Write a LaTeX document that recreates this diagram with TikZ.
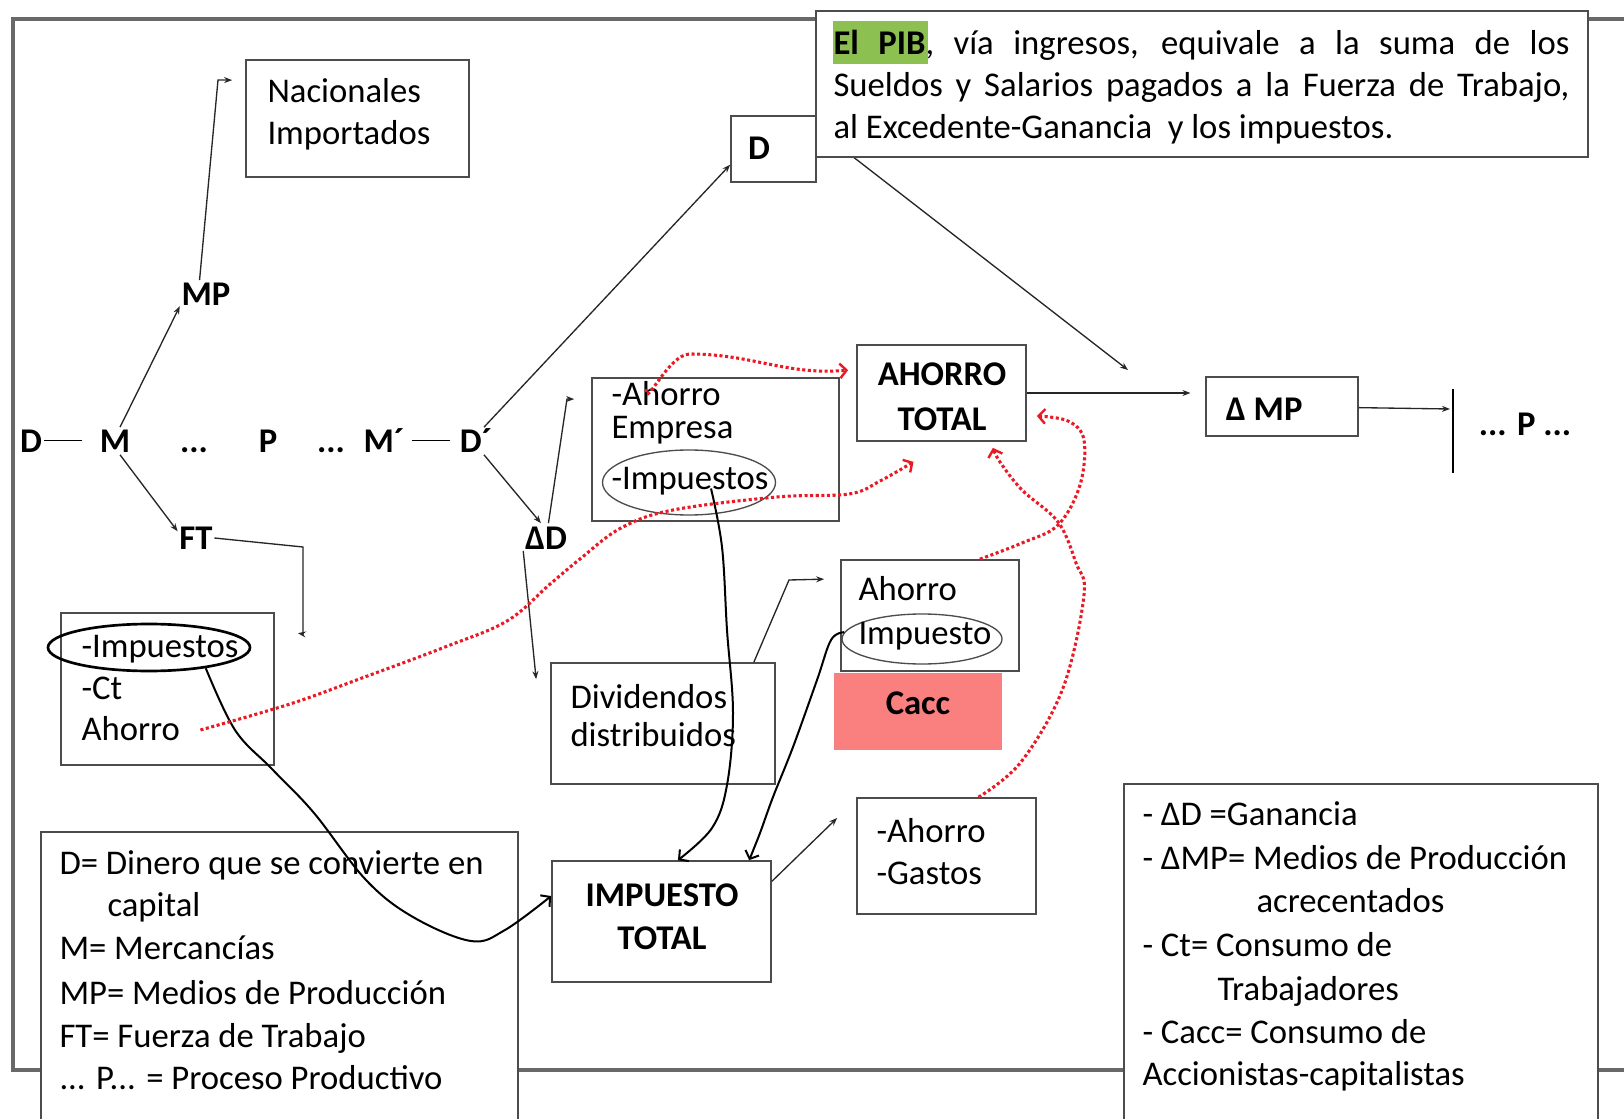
\documentclass[tikz,border=0pt]{standalone}
\usepackage{fontspec}
\setmainfont{Carlito}
\usetikzlibrary{arrows.meta,shapes.geometric,fit,calc}

\definecolor{framegray}{RGB}{105,105,105}
\definecolor{pibgreen}{RGB}{140,192,80}
\definecolor{caccred}{RGB}{250,128,128}
\definecolor{dotred}{RGB}{235,25,35}

\newcommand{\txtsize}{\fontsize{26}{32}\selectfont}

\tikzset{every picture/.style={line width=0.75pt}}
\tikzset{
  box/.style={draw=black!70, line width=1.3pt, fill=white, inner sep=0pt},
  oval/.style={draw=black!70, ellipse, line width=1pt, inner sep=0pt},
  txt/.style={anchor=west, inner sep=0pt, text height=18pt, text depth=5pt},
  tight/.style={txt, text height=14pt, text depth=3pt},
  bf/.style={font=\txtsize\bfseries},
  flow/.style={bf, inner sep=1pt, text height=18pt, text depth=0pt},
  conn/.style={draw=black!85, line width=1pt, -{Stealth[length=6pt,width=4.5pt]}},
  wavy/.style={black, line width=1.5pt, -{Straight Barb[length=5pt,width=11pt]}},
  reddots/.style={dotred, line width=2.3pt, dash pattern=on 2.3pt off 1.9pt,
    -{Straight Barb[length=5pt,width=11pt,line width=1.8pt]}},
}

\begin{document}
\begin{tikzpicture}[x=0.75pt,y=0.75pt,yscale=-1,xscale=1, font=\txtsize]
\useasboundingbox (0,0) rectangle (1624,1119);

%Frame
\draw [framegray, line width=2.5pt] (1630,19) -- (13,19) -- (13,1070) -- (1630,1070) ;

%Shape: Rectangle
\node[box, fit={(246,60) (469,177)}] (nac) {};
%Shape: Rectangle
\node[box, fit={(731,116) (816,182)}] (dbox) {};
%Shape: Rectangle
\node[box, fit={(857,345) (1026,441)}] (ahtot) {};
%Shape: Rectangle
\node[box, fit={(1206,377) (1358,436)}] (dmp) {};
%Shape: Rectangle
\node[box, fit={(592,378) (839,521)}] (emp) {};
%Shape: Rectangle
\node[box, fit={(61,613) (274,765)}] (lbox) {};
%Shape: Rectangle
\node[box, fit={(551,663) (775,784)}] (div) {};
%Shape: Rectangle
\node[box, fit={(841,560) (1019,671)}] (ahimp) {};
%Shape: Rectangle
\node[fill=caccred, inner sep=0pt, fit={(834,673) (1002,750)}] (cacc) {};
%Shape: Rectangle
\node[box, fit={(857,798) (1036,914)}] (gast) {};
%Shape: Rectangle
\node[box, fit={(552,861) (771,982)}] (imptot) {};
%Shape: Rectangle
\node[box, fit={(41,832) (518,1135)}] (legL) {};
%Shape: Rectangle
\node[box, fit={(1124,784) (1598,1135)}] (legR) {};

%Shape: Ellipse
\node[oval, draw=black, line width=2pt, minimum width=151.5pt, minimum height=35.25pt] (impL) at (149,647.5) {};
%Shape: Ellipse
\node[oval, minimum width=129.75pt, minimum height=48.75pt] (impE) at (689,482.5) {};
%Shape: Ellipse
\node[oval, minimum width=120pt, minimum height=37.5pt] (impR) at (922,639) {};

% Text Node
\draw (31,441) node[flow] (d0) {D};
% Text Node
\draw (115,441) node[flow] (m) {M};
% Text Node
\draw (194,441) node[flow] (dots1) {...};
% Text Node
\draw (268,441) node[flow] (p) {P};
% Text Node
\draw (331,441) node[flow] (dots2) {...};
% Text Node
\draw (384,441) node[flow] (m2) {M´};
% Text Node
\draw (476,441) node[flow] (d2) {D´};
% Text Node
\draw (206,294) node[flow] (mp) {MP};
% Text Node
\draw (196,538) node[flow] (ft) {FT};
% Text Node
\draw (546,537) node[flow] (dd) {ΔD};

% Text Node
\draw (267,94) node[txt] (nac1) {Nacionales};
% Text Node
\draw (267,136) node[txt] (nac2) {Importados};
% Text Node
\draw (759,148) node[flow] (dtxt) {D};
% Text Node
\draw (942,374) node[flow] (aht1) {AHORRO};
% Text Node
\draw (942,419) node[flow] (aht2) {TOTAL};
% Text Node
\draw (1224,409) node[flow, anchor=west] (dmptxt) {Δ MP};
% Text Node
\draw (1525,424) node[flow] (pdots) {... P ...};
% Text Node
\draw (611,398) node[tight] (emp1) {-Ahorro};
% Text Node
\draw (611,431) node[tight] (emp2) {Empresa};
% Text Node
\draw (611,481) node[txt] (emp3) {-Impuestos};
% Text Node
\draw (81,649) node[txt] (lb1) {-Impuestos};
% Text Node
\draw (81,691) node[txt] (lb2) {-Ct};
% Text Node
\draw (81,732) node[txt] (lah) {Ahorro};
% Text Node
\draw (570,700) node[txt] (div1) {Dividendos};
% Text Node
\draw (570,738) node[txt] (div2) {distribuidos};
% Text Node
\draw (858,592) node[txt] (ahi1) {Ahorro};
% Text Node
\draw (858,636) node[txt] (ahi2) {Impuesto};
% Text Node
\draw (918,702) node[flow] (cacctxt) {Cacc};
% Text Node
\draw (876,834) node[txt] (gas1) {-Ahorro};
% Text Node
\draw (876,876) node[txt] (gas2) {-Gastos};
% Text Node
\draw (662,894) node[flow] (imp1) {IMPUESTO};
% Text Node
\draw (662,937) node[flow] (imp2) {TOTAL};

% Text Node
\draw (59,866) node[txt] (lgl1) {D= Dinero que se convierte en};
% Text Node
\draw (107,908) node[txt] (lgl2) {capital};
% Text Node
\draw (59,951) node[txt] (lgl3) {M= Mercancías};
% Text Node
\draw (59,996) node[txt] (lgl4) {MP= Medios de Producción};
% Text Node
\draw (59,1039) node[txt] (lgl5) {FT= Fuerza de Trabajo};
% Text Node
\draw (59,1081) node[txt] (lgl6) {... P... = Proceso Productivo};

% Text Node
\draw (1142,817) node[txt] (lgr1) {- ΔD =Ganancia};
% Text Node
\draw (1142,861) node[txt] (lgr2) {- ΔMP= Medios de Producción};
% Text Node
\draw (1256,904) node[txt] (lgr3) {acrecentados};
% Text Node
\draw (1142,948) node[txt] (lgr4) {- Ct= Consumo de};
% Text Node
\draw (1217,992) node[txt] (lgr5) {Trabajadores};
% Text Node
\draw (1142,1035) node[txt] (lgr6) {- Cacc= Consumo de};
% Text Node
\draw (1142,1077) node[txt] (lgr7) {Accionistas-capitalistas};

%Straight Lines
\draw [shorten >=12pt] (d0) -- (m) ;
%Straight Lines
\draw [shorten <=4pt, shorten >=6pt] (m2) -- (d2) ;
\draw [line width=1pt] (1453,389) -- (1453,473) ;

\coordinate (pibto) at (1128,370);
\coordinate (barmid) at (1450,409);
\coordinate (nacin) at ($(nac.north west)+(-13,21)$);
\coordinate (lbin) at ($(lbox.north east)+(23,21)$);
\coordinate (empin) at ($(emp.north west)+(-17,22)$);
\coordinate (divin) at ($(div.north west)+(-14,17)$);
\coordinate (divout) at ($(div.north east)+(-22,0)$);
\coordinate (ahiin) at ($(ahimp.north west)+(-16,20)$);
\coordinate (gasin) at ($(gast.west)+(-19,-38)$);

%Arrows
\draw [conn] (m.70) -- (mp.205) ;
\draw [conn] (mp.115) -- (218,80) -- (nacin) ;
\draw [conn] (m.290) -- (ft.160) ;
\draw [conn] (ft.east) -- (303,547) -- (303,634) -- (lbin) ;
\draw [conn] (d2.60) -- (dbox.200) ;
\draw [conn] (dbox.25) -- (pibto) ;
\draw [conn, shorten >=11pt] (ahtot) -- (ahtot -| dmp.west) ;
\draw [conn] (dmp) -- (barmid) ;
\draw [conn] (d2.300) -- (dd.110) ;
\draw [conn] (dd.80) -- (567,399) -- (empin) ;
\draw [conn] (dd.south west) -- (divin) ;
\draw [conn] (divout) -- (789,580) -- (ahiin) ;
\draw [conn] (imptot.20) -- (gasin) ;

%Curve Lines
\coordinate (impEs) at ($(impE)+(22,6)$);
\draw [wavy] plot[smooth, tension=0.6] coordinates {(impL.340) (235,730) (272,769) (314,813) (366,880) (413,917) (471,941) (505,930) (imptot.167)} ;
\draw [wavy] plot[smooth, tension=0.6] coordinates {(impEs) (722,547) (727,630) (733,713) (727,785) (712,828) (imptot.75)} ;
\draw [wavy] plot[smooth, tension=0.6] coordinates {(impR.175) (831,640) (817,680) (793,747) (773,797) (760,833) (imptot.35)} ;

%Dotted Curves
\coordinate (empout) at ($(emp.north west)+(55,12)$);
\coordinate (ahtin1) at ($(ahtot.north west)+(-8,26)$);
\coordinate (lahout) at ($(lah.east)+(20,-2)$);
\coordinate (ahtin2) at ($(ahtot.south)+(-28,20)$);
\coordinate (ahiout) at ($(ahimp.north east)+(-40,0)$);
\coordinate (ahtin3) at ($(ahtot.east)+(10,23)$);
\coordinate (gasout) at ($(gast.north)+(32,0)$);
\coordinate (ahtin4) at ($(ahtot.south east)+(-34,6)$);
\draw [reddots] (empout) to[out=95,in=180] (690,354) to[out=0,in=175] (ahtin1) ;
\draw [reddots] plot[smooth, tension=0.6] coordinates {(lahout) (290,704) (362,678) (445,647) (507,621) (549,585) (580,559) (621,528) (673,510) (777,497) (849,494) (880,481) (ahtin2)} ;
\draw [reddots] plot[smooth, tension=0.6] coordinates {(ahiout) (1022,543) (1058,525) (1080,485) (1084,440) (1068,421) (ahtin3)} ;
\draw [reddots] plot[smooth, tension=0.6] coordinates {(gasout) (1021,762) (1063,688) (1084,595) (1076,563) (1058,522) (1022,490) (1000,462) (ahtin4)} ;

%Shape: Rectangle
\node[box, fit={(816,11) (1588,157)}] (pib) {};
\fill [pibgreen] (833,21) rectangle (928,64) ;
% Text Node
\draw (833,46) node[txt] (pib1) {\makebox[552pt][s]{\textbf{El PIB}, vía ingresos, equivale a la suma de los}};
% Text Node
\draw (833,88) node[txt] (pib2) {\makebox[552pt][s]{Sueldos y Salarios pagados a la Fuerza de Trabajo,}};
% Text Node
\draw (833,130) node[txt] (pib3) {al Excedente-Ganancia\ \ y los impuestos.};

\end{tikzpicture}
\end{document}
